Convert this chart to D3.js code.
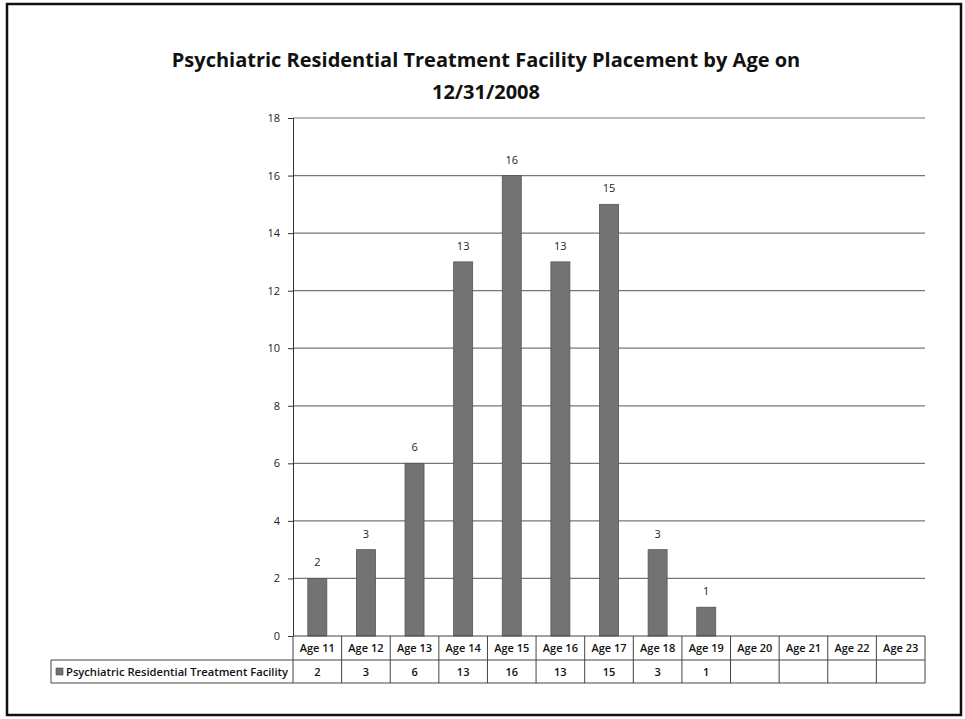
<!DOCTYPE html>
<html>
<head>
<meta charset="utf-8">
<script src="https://cdn.jsdelivr.net/npm/d3@7"></script>
<style>
  body { margin: 0; background: #fff; }
  text { font-family: "Open Sans", "Noto Sans", sans-serif; }
</style>
</head>
<body>
<svg id="chart" width="965" height="719"></svg>
<script>
// chart data
const categories = ["Age 11", "Age 12", "Age 13", "Age 14", "Age 15", "Age 16", "Age 17", "Age 18", "Age 19", "Age 20", "Age 21", "Age 22", "Age 23"];
const values = [2, 3, 6, 13, 16, 13, 15, 3, 1, null, null, null, null];
const yTicks = [0, 2, 4, 6, 8, 10, 12, 14, 16, 18];
const seriesName = "Psychiatric Residential Treatment Facility";
const titleLines = ["Psychiatric Residential Treatment Facility Placement by Age on", "12/31/2008"];

const svg = d3.select("#chart");

// outer frame
svg.append("rect")
  .attr("x", 7).attr("y", 4).attr("width", 954).attr("height", 711)
  .attr("fill", "none").attr("stroke", "#111").attr("stroke-width", 2.5);

// title
svg.selectAll(".title")
  .data(titleLines)
  .enter()
  .append("text")
  .attr("x", 486)
  .attr("y", (d, i) => 67 + i * 32)
  .attr("text-anchor", "middle")
  .style("font-size", "20px")
  .style("font-weight", "bold")
  .attr("fill", "#111")
  .text(d => d);

const plotLeft = 293, plotRight = 925, plotTop = 118, plotBottom = 636;

const x = d3.scaleBand().domain(categories).range([plotLeft, plotRight]);
const y = d3.scaleLinear().domain([0, 18]).range([plotBottom, plotTop]);

// gridlines
svg.selectAll(".grid")
  .data(yTicks.filter(t => t > 0))
  .enter()
  .append("line")
  .attr("x1", plotLeft).attr("x2", plotRight)
  .attr("y1", d => y(d)).attr("y2", d => y(d))
  .attr("stroke", "#777").attr("stroke-width", 1.2);

// y axis
const yAxis = d3.axisLeft(y).tickValues(yTicks).tickSize(5).tickPadding(8);
const gy = svg.append("g").attr("transform", `translate(${plotLeft},0)`).call(yAxis);
gy.select(".domain").attr("stroke", "#333");
gy.selectAll(".tick line").attr("stroke", "#333");
gy.selectAll("text").style("font-size", "11px").attr("fill", "#222");

// bars
const barW = 19;
const barData = categories.map((c, i) => ({ c, v: values[i] })).filter(d => d.v != null);
svg.selectAll(".bar")
  .data(barData)
  .enter()
  .append("rect")
  .attr("x", d => x(d.c) + x.bandwidth() / 2 - barW / 2)
  .attr("y", d => y(d.v))
  .attr("width", barW)
  .attr("height", d => plotBottom - y(d.v))
  .attr("fill", "#737373")
  .attr("stroke", "#555").attr("stroke-width", 0.8);

// data labels
svg.selectAll(".lbl")
  .data(barData)
  .enter()
  .append("text")
  .attr("x", d => x(d.c) + x.bandwidth() / 2)
  .attr("y", d => y(d.v) - 12)
  .attr("text-anchor", "middle")
  .style("font-size", "11px")
  .attr("fill", "#222")
  .text(d => d.v);

// data table
const row1 = [plotBottom, 660], row2 = [660, 683];
const tableLeft = 51;
const tbl = svg.append("g").attr("stroke", "#444").attr("stroke-width", 1).attr("fill", "none");
tbl.append("line").attr("x1", plotLeft).attr("x2", plotRight).attr("y1", row1[0]).attr("y2", row1[0]);
tbl.append("line").attr("x1", tableLeft).attr("x2", plotRight).attr("y1", row2[0]).attr("y2", row2[0]);
tbl.append("line").attr("x1", tableLeft).attr("x2", plotRight).attr("y1", row2[1]).attr("y2", row2[1]);
tbl.selectAll(".vl")
  .data(categories)
  .enter()
  .append("line")
  .attr("x1", d => x(d) + x.bandwidth()).attr("x2", d => x(d) + x.bandwidth())
  .attr("y1", row1[0]).attr("y2", row2[1]);
tbl.append("line").attr("x1", plotLeft).attr("x2", plotLeft).attr("y1", row1[0]).attr("y2", row2[1]);
tbl.append("line").attr("x1", tableLeft).attr("x2", tableLeft).attr("y1", row2[0]).attr("y2", row2[1]);

// category labels
svg.selectAll(".cat")
  .data(categories)
  .enter()
  .append("text")
  .attr("x", d => x(d) + x.bandwidth() / 2)
  .attr("y", (row1[0] + row1[1]) / 2 + 4)
  .attr("text-anchor", "middle")
  .style("font-size", "11px")
  .style("font-weight", "600")
  .attr("fill", "#111")
  .text(d => d);

// value cells
svg.selectAll(".val")
  .data(categories.map((c, i) => ({ c, v: values[i] })))
  .enter()
  .append("text")
  .attr("x", d => x(d.c) + x.bandwidth() / 2)
  .attr("y", (row2[0] + row2[1]) / 2 + 4)
  .attr("text-anchor", "middle")
  .style("font-size", "11px")
  .style("font-weight", "600")
  .attr("fill", "#111")
  .text(d => d.v == null ? "" : d.v);

// legend key in table
svg.append("rect")
  .attr("x", 56).attr("y", (row2[0] + row2[1]) / 2 - 3.5)
  .attr("width", 7).attr("height", 7)
  .attr("fill", "#737373").attr("stroke", "#444").attr("stroke-width", 0.6);
svg.append("text")
  .attr("x", 66).attr("y", (row2[0] + row2[1]) / 2 + 4)
  .style("font-size", "11.2px")
  .style("font-weight", "600")
  .attr("fill", "#111")
  .text(seriesName);
</script>
</body>
</html>
